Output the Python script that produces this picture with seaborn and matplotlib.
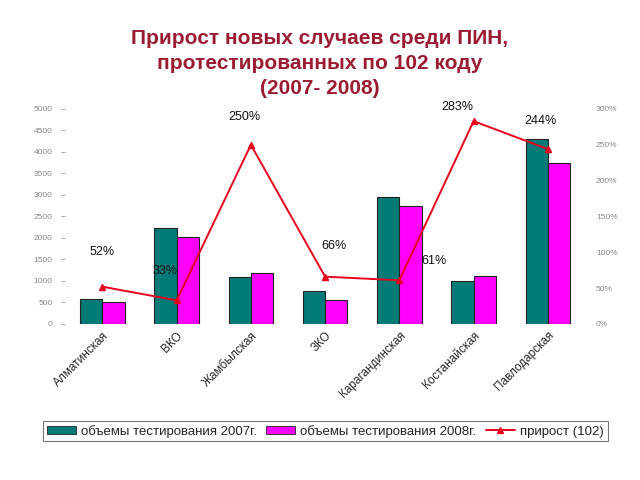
import matplotlib
matplotlib.use("Agg")
import matplotlib.pyplot as plt
import seaborn as sns
import pandas as pd
from matplotlib.lines import Line2D
from matplotlib.patches import Patch

categories = ["Алматинская", "ВКО", "Жамбылская", "ЗКО", "Карагандинская", "Костанайская", "Павлодарская"]
tests_2007 = [580, 2230, 1090, 770, 2960, 1000, 4300]
tests_2008 = [510, 2020, 1190, 560, 2740, 1120, 3740]
growth = [52, 33, 250, 66, 61, 283, 244]
growth_labels = ["52%", "33%", "250%", "66%", "61%", "283%", "244%"]
left_ticks = [0, 500, 1000, 1500, 2000, 2500, 3000, 3500, 4000, 4500, 5000]
right_ticks = [0, 50, 100, 150, 200, 250, 300]
series_names = ["объемы тестирования 2007г.", "объемы тестирования 2008г.", "прирост (102)"]
title = "Прирост новых случаев среди ПИН,\nпротестированных по 102 коду\n(2007- 2008)"

sns.set_theme(style="white")
plt.rcParams['font.family'] = ['Liberation Sans', 'DejaVu Sans']

df = pd.DataFrame({
    "region": categories * 2,
    "value": tests_2007 + tests_2008,
    "year": [series_names[0]] * len(categories) + [series_names[1]] * len(categories),
})

teal = "#007B78"
magenta = "#FF00FF"
red = "#E8001C"

fig = plt.figure(figsize=(6.4, 4.8), dpi=100)
ax = fig.add_axes([0.102, 0.325, 0.812, 0.448])
sns.barplot(data=df, x="region", y="value", hue="year", order=categories,
            palette=[teal, magenta], saturation=1, width=0.6, edgecolor="#222222",
            linewidth=0.8, ax=ax, legend=False)
ax.set_ylim(0, 5000)
ax.set_yticks(left_ticks)
ax.set_yticklabels([str(t) for t in left_ticks], fontsize=6, color="#888888")
ax.set_xlabel("")
ax.set_ylabel("")
ax.set_xticks(range(len(categories)))
ax.set_xticklabels(categories, rotation=45, ha="right", rotation_mode="anchor", fontsize=8.5)
ax.tick_params(axis="x", length=0, pad=4)
ax.tick_params(axis="y", length=3, color="#999999", width=0.6, pad=6, left=True)
for s in ax.spines.values():
    s.set_visible(False)

ax2 = ax.twinx()
sns.pointplot(x=categories, y=growth, order=categories, color=red, markers="^",
              linestyles="-", errorbar=None, ax=ax2, markersize=5, linewidth=1.4)
ax2.set_ylim(0, 300)
ax2.set_xlim(-0.5, len(categories) - 0.5)
ax.set_xlim(-0.5, len(categories) - 0.5)
ax2.set_yticks(right_ticks)
ax2.set_yticklabels([f"{t}%" for t in right_ticks], fontsize=6, color="#888888")
ax2.tick_params(axis="y", length=0, pad=8)
ax2.set_ylabel("")
for s in ax2.spines.values():
    s.set_visible(False)

offsets = [(0, 25), (-8, 21), (-5, 20), (6.5, 22), (25, 14), (-11.5, 10), (-5, 20)]
for i, (g, lab) in enumerate(zip(growth, growth_labels)):
    ax2.annotate(lab, (i, g), xytext=offsets[i], textcoords="offset points",
                 ha="center", va="center", fontsize=9, color="#111111", clip_on=False)

fig.suptitle(title, x=0.5, y=0.94, va="top", fontsize=15, fontweight="bold",
             color="#9B1B30", linespacing=1.4)

handles = [Patch(facecolor=teal, edgecolor="#222222", linewidth=0.6),
           Patch(facecolor=magenta, edgecolor="#222222", linewidth=0.6),
           Line2D([], [], color=red, marker="^", markersize=5, linewidth=1.4)]
leg = fig.legend(handles, series_names, loc="center", bbox_to_anchor=(0.508, 0.102),
                 ncol=3, fontsize=9.5, frameon=True, fancybox=False, edgecolor="#555555",
                 handlelength=2.2, handleheight=0.6, columnspacing=0.7, handletextpad=0.4,
                 borderpad=0.3, borderaxespad=0)
leg.get_frame().set_linewidth(0.8)

fig.savefig("out.png", dpi=100)
